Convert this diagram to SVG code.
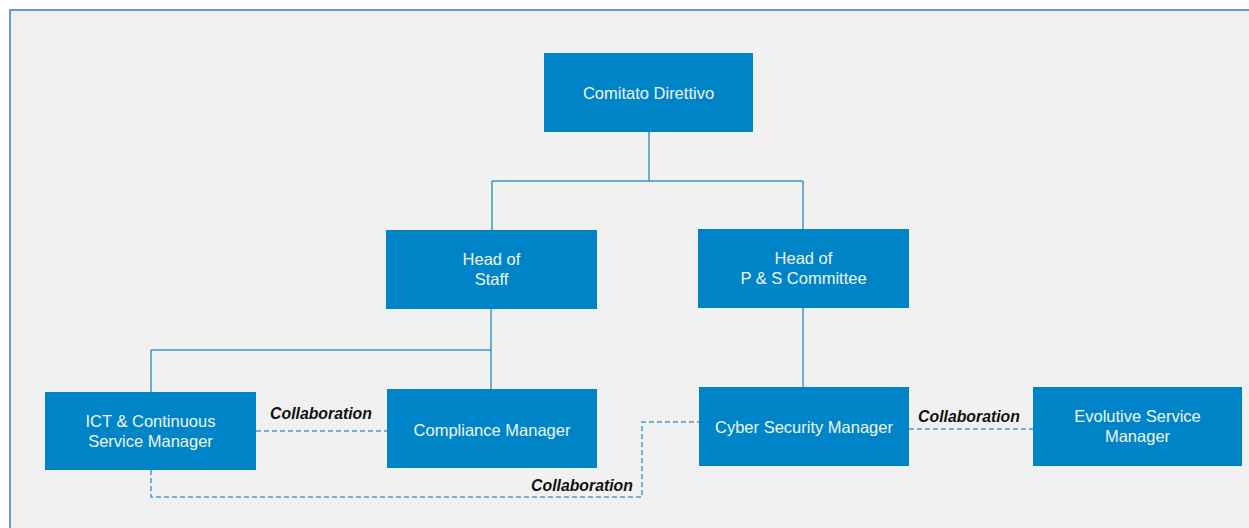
<svg xmlns="http://www.w3.org/2000/svg" width="1249" height="528" viewBox="0 0 1249 528">
  <style>
    .box { fill: #0084c8; }
    .lbl { font-family: "Liberation Sans", Arial, sans-serif; font-size: 16.5px; fill: #eef6fb; text-anchor: middle; }
    .tree { fill: none; stroke: #3f97c8; stroke-width: 1.5; }
    .collab { fill: none; stroke: #4a9ccc; stroke-width: 1.5; stroke-dasharray: 5 3; }
    .note { font-family: "Liberation Sans", Arial, sans-serif; font-size: 15.8px; font-weight: bold; font-style: italic; fill: #111; text-anchor: middle; }
  </style>

  <!-- page background and frame -->
  <rect x="0" y="0" width="1249" height="528" fill="#ffffff"/>
  <rect x="10" y="10" width="1250" height="530" fill="#f1f1f1" stroke="#6a98d2" stroke-width="2"/>

  <!-- reporting lines and collaboration links -->
  <g id="connectors">
    <path class="tree" d="M649 132 V181 M492 181 H803 M492 181 V230 M803 181 V229"/>
    <path class="tree" d="M491 309 V389 M151 350 H491 M151 350 V392"/>
    <path class="tree" d="M803 308 V387"/>
    <path class="collab" d="M256 431 H387"/>
    <path class="collab" d="M151 470 V497 H642 V422 H699"/>
    <path class="collab" d="M909 429 H1033"/>
    <text class="note" x="321" y="419">Collaboration</text>
    <text class="note" x="582" y="491">Collaboration</text>
    <text class="note" x="969" y="422">Collaboration</text>
  </g>

  <g id="comitato-direttivo">
    <rect class="box" x="544" y="53" width="209" height="79"/>
    <text class="lbl" x="648.5" y="99">Comitato Direttivo</text>
  </g>

  <g id="head-of-staff">
    <rect class="box" x="386" y="230" width="211" height="79"/>
    <text class="lbl" x="491.5" y="265">Head of</text>
    <text class="lbl" x="491.5" y="285">Staff</text>
  </g>

  <g id="head-of-ps-committee">
    <rect class="box" x="698" y="229" width="211" height="79"/>
    <text class="lbl" x="803.5" y="264">Head of</text>
    <text class="lbl" x="803.5" y="284">P &amp; S Committee</text>
  </g>

  <g id="ict-continuous-service-manager">
    <rect class="box" x="45" y="392" width="211" height="78"/>
    <text class="lbl" x="150.5" y="427">ICT &amp; Continuous</text>
    <text class="lbl" x="150.5" y="447">Service Manager</text>
  </g>

  <g id="compliance-manager">
    <rect class="box" x="387" y="389" width="210" height="79"/>
    <text class="lbl" x="492" y="436">Compliance Manager</text>
  </g>

  <g id="cyber-security-manager">
    <rect class="box" x="699" y="387" width="210" height="79"/>
    <text class="lbl" x="804" y="433">Cyber Security Manager</text>
  </g>

  <g id="evolutive-service-manager">
    <rect class="box" x="1033" y="387" width="209" height="79"/>
    <text class="lbl" x="1137.5" y="422">Evolutive Service</text>
    <text class="lbl" x="1137.5" y="442">Manager</text>
  </g>
</svg>
